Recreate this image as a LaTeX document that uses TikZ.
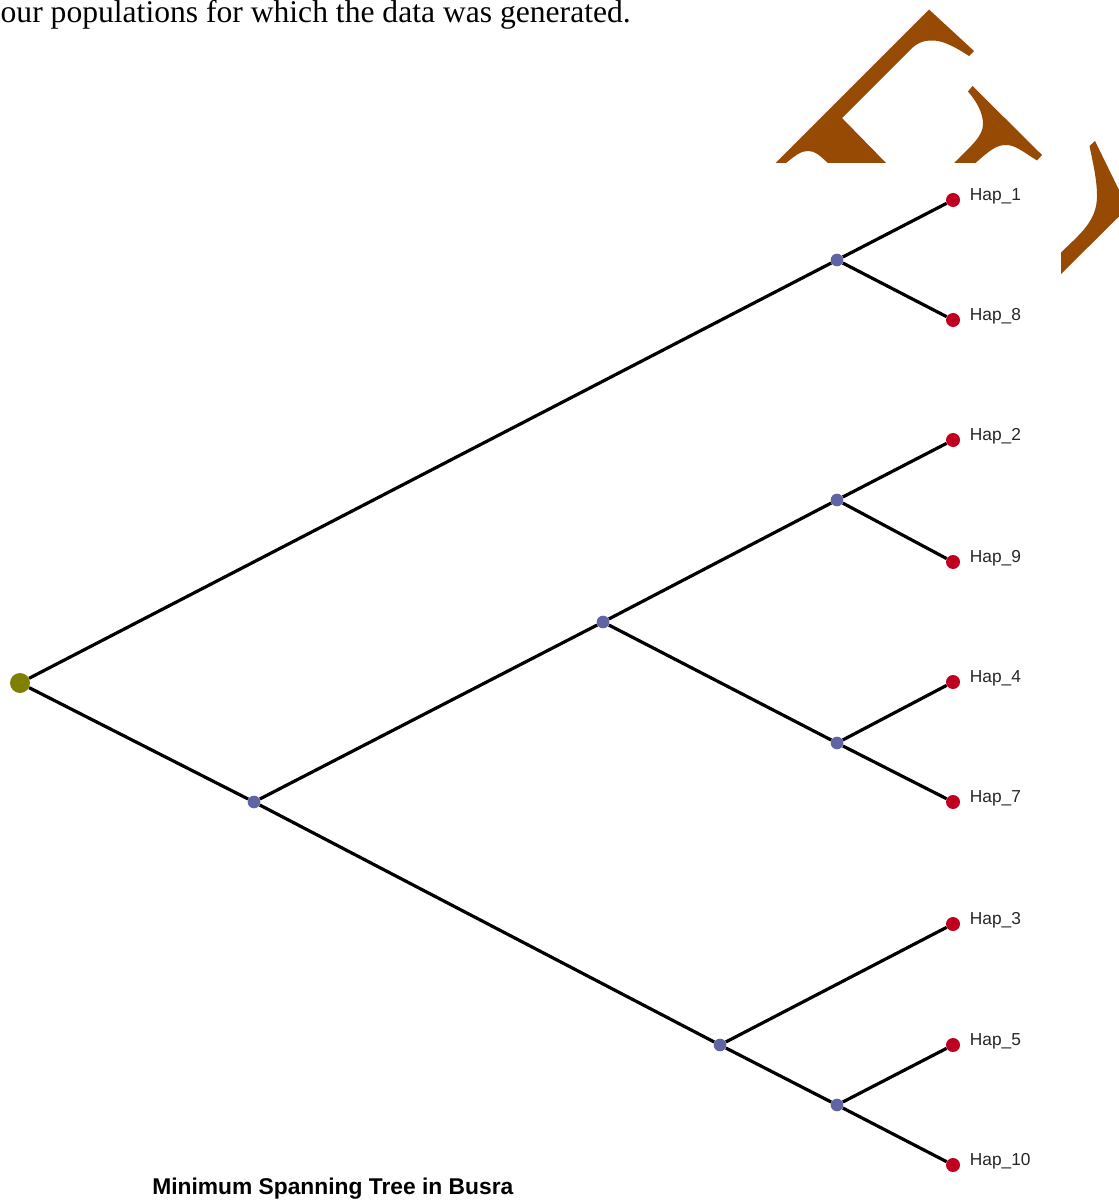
\documentclass[tikz,border=0pt]{standalone}
\usepackage{fontspec}
\setmainfont{Liberation Serif}
\setsansfont{Liberation Sans}
\usetikzlibrary{positioning}
\definecolor{rootolive}{HTML}{808000}
\definecolor{innerblue}{HTML}{6064A4}
\definecolor{leafred}  {HTML}{C00020}
\definecolor{rustbrown}{HTML}{974A04}
\tikzset{
  rootdot/.style={circle, fill=rootolive, inner sep=0pt, minimum size=15pt},
  innerdot/.style={circle, fill=innerblue, inner sep=0pt, minimum size=9.5pt},
  leafdot/.style={circle, fill=leafred, inner sep=0pt, minimum size=10.5pt},
  hapname/.style={font=\fontsize{13}{15}\sffamily, color=black!85, anchor=west, inner sep=0pt, right=7pt of #1, yshift=2.6pt},
  branch/.style={line width=2.4pt, color=black},
}
\begin{document}
\begin{tikzpicture}[x=0.75pt,y=-0.75pt]
 \useasboundingbox (0,0) rectangle (1119,1201);
 % page fragments at the top
 \node[font=\fontsize{23.7}{26}\selectfont, anchor=base east, inner sep=0pt] (caption) at (631,23)
 {our populations for which the data was generated.};
 \fill[rustbrown] (929,9.5) -- (974,51) -- (969,56)
   .. controls (952,45) and (942,40.5) .. (932,40.5)
   .. controls (923,40.5) and (917,43) .. (910,50)
   -- (842,118) -- (886,163) -- (828,163)
   .. controls (819,155) and (815,151) .. (808,151)
   .. controls (801,151) and (796,155) .. (786,163)
   -- (775.5,163) -- cycle;
 \fill[rustbrown] (972.5,86) -- (1042,155) -- (1037,160.5)
   .. controls (1022,151) and (1015,145) .. (1006,145)
   .. controls (996,145) and (989,151) .. (975.5,163)
   -- (954,163)
   .. controls (972,145) and (983,136) .. (983,124)
   .. controls (983,113) and (977,102) .. (968,91.5) -- cycle;
 \fill[rustbrown] (1095,141) -- (1119,190) -- (1119,216.5) -- (1061,274) -- (1061,252.5)
   .. controls (1080,234) and (1097,221) .. (1097,196)
   .. controls (1097,180) and (1093,163) .. (1089.5,146) -- cycle;
 % tree
 \node[rootdot]  (root) at (20,683) {};
 \node[innerdot] (busra) at (254,802) {};
 \node[innerdot] (midup) at (603,622) {};
 \node[innerdot] (midlow) at (720,1045) {};
 \node[innerdot] (join18) at (837,260) {};
 \node[innerdot] (join29) at (837,500) {};
 \node[innerdot] (join47) at (837,743) {};
 \node[innerdot] (join510) at (837,1105) {};
 \foreach \hap/\ypos in {1/200,8/320,2/440,9/562,4/682,7/802,3/924,5/1045,10/1165}{
   \node[leafdot] (hap\hap) at (953,\ypos) {};
   \node[hapname=hap\hap] (name\hap) {Hap\_\hap};
 }
 \draw[branch] (root) -- (join18);
 \draw[branch] (root) -- (busra);
 \draw[branch] (busra) -- (midup);
 \draw[branch] (busra) -- (midlow);
 \draw[branch] (midup) -- (join29);
 \draw[branch] (midup) -- (join47);
 \draw[branch] (midlow) -- (hap3);
 \draw[branch] (midlow) -- (join510);
 \draw[branch] (join18) -- (hap1);
 \draw[branch] (join18) -- (hap8);
 \draw[branch] (join29) -- (hap2);
 \draw[branch] (join29) -- (hap9);
 \draw[branch] (join47) -- (hap4);
 \draw[branch] (join47) -- (hap7);
 \draw[branch] (join510) -- (hap5);
 \draw[branch] (join510) -- (hap10);
 \node[font=\fontsize{17.1}{19}\sffamily\bfseries, anchor=west, inner sep=0pt] (title) at (152,1189)
 {Minimum Spanning Tree in Busra};
\end{tikzpicture}
\end{document}
